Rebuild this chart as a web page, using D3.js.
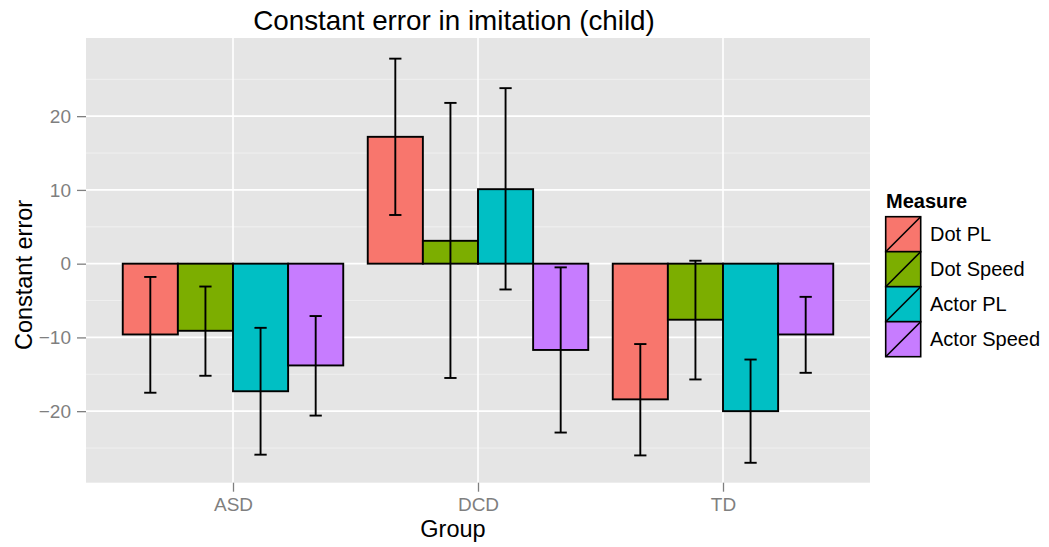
<!DOCTYPE html>
<html>
<head>
<meta charset="utf-8">
<script src="https://cdn.jsdelivr.net/npm/d3@7"></script>
<style>
  html, body { margin: 0; padding: 0; background: #fff; }
  svg { display: block; font-family: "Liberation Sans", Arial, Helvetica, sans-serif; }
</style>
</head>
<body>
<svg id="chart" width="1049" height="547"></svg>
<script>
// ---- Data ----
const groups = ["ASD", "DCD", "TD"];
const measures = ["Dot PL", "Dot Speed", "Actor PL", "Actor Speed"];
const colors = ["#F8766D", "#7CAE00", "#00BFC4", "#C77CFF"];
// mean constant error per group, in the order of measures
const meanASD = [-9.6, -9.1, -17.3, -13.8];
const meanDCD = [17.2, 3.1, 10.1, -11.7];
const meanTD  = [-18.4, -7.6, -20.0, -9.6];
// error bar lower / upper limits
const lowASD  = [-17.5, -15.2, -25.9, -20.6];
const highASD = [-1.8, -3.1, -8.7, -7.1];
const lowDCD  = [6.6, -15.5, -3.5, -22.9];
const highDCD = [27.8, 21.8, 23.8, -0.5];
const lowTD   = [-26.0, -15.7, -27.0, -14.8];
const highTD  = [-10.9, 0.4, -13.0, -4.5];
const yTicks = [-20, -10, 0, 10, 20];
const yMinorTicks = [-25, -15, -5, 5, 15, 25];
const titleText = "Constant error in imitation (child)";
const xTitle = "Group";
const yTitle = "Constant error";
const legendTitle = "Measure";

const means = { ASD: meanASD, DCD: meanDCD, TD: meanTD };
const lows = { ASD: lowASD, DCD: lowDCD, TD: lowTD };
const highs = { ASD: highASD, DCD: highDCD, TD: highTD };

const rows = [];
groups.forEach(g => measures.forEach((m, i) => {
  rows.push({ group: g, measure: m, value: means[g][i], lo: lows[g][i], hi: highs[g][i] });
}));

// ---- Layout ----
const panel = { left: 86, right: 870, top: 38, bottom: 482.7 };
const svg = d3.select("#chart");

const x = d3.scalePoint().domain(groups).range([panel.left, panel.right]).padding(0.6);
const step = x.step();
const xSub = d3.scaleBand().domain(measures).range([-0.45 * step, 0.45 * step]).padding(0);
const y = d3.scaleLinear().domain([-29.7, 30.6]).range([panel.bottom, panel.top]);
const color = d3.scaleOrdinal().domain(measures).range(colors);

// panel background
svg.append("rect")
  .attr("x", panel.left).attr("y", panel.top)
  .attr("width", panel.right - panel.left).attr("height", panel.bottom - panel.top)
  .attr("fill", "#E5E5E5");

// minor grid
svg.append("g").selectAll("line").data(yMinorTicks).join("line")
  .attr("x1", panel.left).attr("x2", panel.right)
  .attr("y1", d => y(d)).attr("y2", d => y(d))
  .attr("stroke", "#F2F2F2").attr("stroke-width", 0.8);

// major grid
svg.append("g").selectAll("line").data(yTicks).join("line")
  .attr("x1", panel.left).attr("x2", panel.right)
  .attr("y1", d => y(d)).attr("y2", d => y(d))
  .attr("stroke", "#FFFFFF").attr("stroke-width", 1.6);
svg.append("g").selectAll("line").data(groups).join("line")
  .attr("x1", d => x(d)).attr("x2", d => x(d))
  .attr("y1", panel.top).attr("y2", panel.bottom)
  .attr("stroke", "#FFFFFF").attr("stroke-width", 1.6);

// bars
svg.append("g").selectAll("rect").data(rows).join("rect")
  .attr("x", d => x(d.group) + xSub(d.measure))
  .attr("width", xSub.bandwidth())
  .attr("y", d => y(Math.max(0, d.value)))
  .attr("height", d => Math.abs(y(d.value) - y(0)))
  .attr("fill", d => color(d.measure))
  .attr("stroke", "#000").attr("stroke-width", 1.9);

// error bars
const capHalf = 0.025 * step;
const eb = svg.append("g").attr("stroke", "#000").attr("stroke-width", 1.9).attr("fill", "none");
const ebG = eb.selectAll("g").data(rows).join("g")
  .attr("transform", d => `translate(${x(d.group) + xSub(d.measure) + xSub.bandwidth() / 2},0)`);
ebG.append("line").attr("x1", 0).attr("x2", 0).attr("y1", d => y(d.lo)).attr("y2", d => y(d.hi));
ebG.append("line").attr("x1", -capHalf).attr("x2", capHalf).attr("y1", d => y(d.lo)).attr("y2", d => y(d.lo));
ebG.append("line").attr("x1", -capHalf).attr("x2", capHalf).attr("y1", d => y(d.hi)).attr("y2", d => y(d.hi));

// axes
const gx = svg.append("g").attr("transform", `translate(0,${panel.bottom})`)
  .call(d3.axisBottom(x).tickSize(9).tickPadding(6).tickSizeOuter(0));
gx.select(".domain").remove();
gx.selectAll("line").attr("stroke", "#7F7F7F").attr("stroke-width", 1.3);
gx.selectAll("text").attr("fill", "#7F7F7F").attr("font-size", 19).attr("font-family", "Liberation Sans, Arial, sans-serif");

const gy = svg.append("g").attr("transform", `translate(${panel.left},0)`)
  .call(d3.axisLeft(y).tickValues(yTicks).tickSize(9).tickPadding(6).tickSizeOuter(0));
gy.select(".domain").remove();
gy.selectAll("line").attr("stroke", "#7F7F7F").attr("stroke-width", 1.3);
gy.selectAll("text").attr("fill", "#7F7F7F").attr("font-size", 19).attr("font-family", "Liberation Sans, Arial, sans-serif");

// titles
svg.append("text").attr("x", 454).attr("y", 30).attr("text-anchor", "middle")
  .attr("font-size", 27.8).attr("fill", "#000").text(titleText);
svg.append("text").attr("x", 453).attr("y", 536.5).attr("text-anchor", "middle")
  .attr("font-size", 23.5).attr("fill", "#000").text(xTitle);
svg.append("text").attr("transform", "translate(31.5,275) rotate(-90)").attr("text-anchor", "middle")
  .attr("font-size", 23.5).attr("fill", "#000").text(yTitle);

// legend
const lg = svg.append("g");
lg.append("text").attr("x", 886).attr("y", 207.7).attr("font-size", 20).attr("font-weight", "bold")
  .attr("fill", "#000").text(legendTitle);
const keySize = 35, keyTop = 216.7, keyLeft = 885.7;
const items = lg.selectAll("g").data(measures).join("g")
  .attr("transform", (d, i) => `translate(${keyLeft},${keyTop + i * keySize})`);
items.append("rect").attr("width", keySize).attr("height", keySize)
  .attr("fill", d => color(d)).attr("stroke", "#000").attr("stroke-width", 1.6);
items.append("line").attr("x1", 0).attr("y1", keySize).attr("x2", keySize).attr("y2", 0)
  .attr("stroke", "#000").attr("stroke-width", 1.6);
items.append("text").attr("x", 930 - keyLeft).attr("y", keySize / 2).attr("dy", "0.35em")
  .attr("font-size", 20).attr("fill", "#000").text(d => d);
</script>
</body>
</html>
